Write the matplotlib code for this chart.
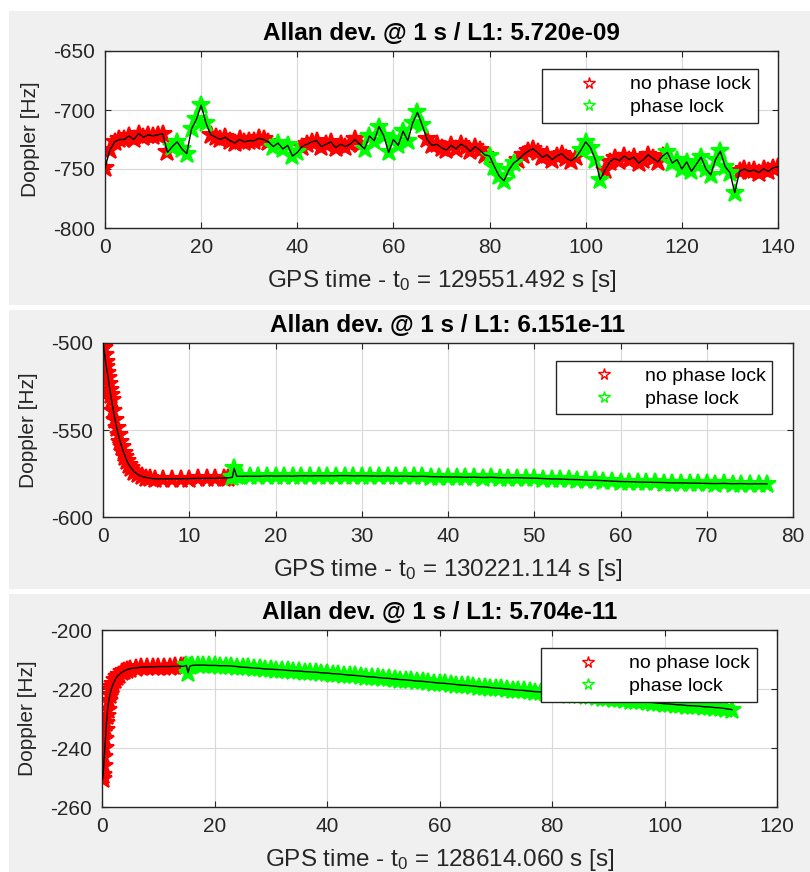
import matplotlib
matplotlib.use('Agg')
import matplotlib.pyplot as plt
from matplotlib.lines import Line2D
from matplotlib.patches import Rectangle
import numpy as np

plt.rcParams['font.family'] = ['Liberation Sans', 'DejaVu Sans']
plt.rcParams['mathtext.default'] = 'regular'
plt.rcParams['axes.unicode_minus'] = False

# --- panel 1: doppler, 1 s steps ---
t1 = list(range(141))
d1 = [-749, -734, -727, -725, -725, -722, -725, -720, -723, -721,
      -722, -721, -720, -736, -731, -727, -733, -737, -716, -708,
      -696, -711, -721, -723, -725, -723, -726, -728, -725, -727,
      -726, -726, -724, -725, -727, -731, -728, -733, -730, -739,
      -736, -731, -729, -727, -726, -731, -729, -727, -732, -729,
      -731, -729, -725, -729, -733, -722, -726, -714, -722, -736,
      -725, -730, -718, -726, -711, -702, -713, -725, -730, -729,
      -732, -734, -730, -733, -729, -731, -735, -731, -734, -738,
      -739, -748, -756, -760, -751, -745, -742, -738, -735, -733,
      -736, -740, -738, -742, -739, -737, -741, -743, -740, -734,
      -727, -732, -742, -759, -751, -744, -741, -743, -739, -742,
      -740, -745, -742, -738, -741, -744, -739, -736, -745, -742,
      -750, -744, -752, -746, -740, -750, -755, -742, -735, -748,
      -753, -770, -752, -750, -752, -751, -753, -750, -752, -749,
      -748]
lock1 = [(14, 21), (35, 40), (54, 66), (80, 85), (99, 103), (117, 131)]

# --- panel 2 ---
t2 = [0, 0.1, 0.2, 0.3, 0.4, 0.5, 0.6, 0.7, 0.8, 0.9, 1.0,
      1.2, 1.4, 1.6, 1.8, 2.0, 2.2, 2.4, 2.6, 2.8, 3.0,
      3.3, 3.6, 4.0, 4.5, 5.0, 5.5,
      6, 7, 8, 9, 10, 11, 12, 13, 14, 14.5,
      15, 15.2, 15.5] + list(range(16, 78))
d2 = [-499, -503, -507, -511, -514, -517, -520, -523.5, -527, -530, -533,
      -539, -544, -549, -553, -557, -560, -563, -565.5, -568, -570,
      -572, -574, -575.5, -576.7, -577.3, -577.8,
      -578.0, -578.1, -578.0, -578.0, -577.9, -577.8, -577.8, -577.7, -577.6, -577.5,
      -577.2, -572.0, -576.6,
      -576.6, -576.5, -576.6, -576.4, -576.5, -576.4, -576.5, -576.3, -576.4, -576.3,
      -576.4, -576.3, -576.2, -576.4, -576.3,
      -576.4, -576.5, -576.4, -576.6, -576.5, -576.7, -576.6, -576.8, -576.9, -577.0,
      -577.0, -577.2, -577.1, -577.3, -577.2, -577.4, -577.5, -577.4, -577.6, -577.7,
      -577.9, -578.1, -578.2, -578.4, -578.5, -578.8, -578.9, -579.1, -579.4, -579.6,
      -579.7, -579.9, -580.0, -580.1, -580.2, -580.4, -580.4, -580.5, -580.6, -580.7,
      -580.8, -580.7, -580.9, -580.8, -581.0, -580.9, -581.0]
lock2 = [(14.6, 80)]

# --- panel 3 ---
t3 = [0.1, 0.2, 0.3, 0.4, 0.5, 0.6, 0.7, 0.8, 0.9, 1.0,
      1.2, 1.4, 1.6, 1.8, 2.0,
      2.3, 2.6, 3.0, 3.5, 4.0, 4.5, 5.0,
      6, 7, 8, 9, 10, 11, 12, 13, 14, 14.5,
      15, 15.3, 15.6] + list(range(16, 113))
d3 = [-250.5, -249, -246, -243, -240, -237, -234, -231.5, -229, -227,
      -224, -222, -220.5, -219.2, -218.2,
      -217, -216, -215.2, -214.4, -213.8, -213.4, -213.1,
      -212.8, -212.6, -212.5, -212.5, -212.4, -212.4, -212.4, -212.3, -212.3, -212.3,
      -212.0, -214.5, -212.3,
      -212.0, -211.9, -211.9, -212.0, -212.0, -212.1, -212.1, -212.2,
      -212.4, -212.6, -212.7, -212.9, -213.0, -213.2, -213.3,
      -213.4, -213.5, -213.7, -213.8, -213.9, -214.1, -214.2, -214.3, -214.5, -214.6,
      -214.8, -214.9, -215.1, -215.3, -215.4, -215.6, -215.8, -215.9, -216.1, -216.3,
      -216.4, -216.6, -216.8, -216.9, -217.1, -217.3, -217.4, -217.6, -217.8, -218.0,
      -218.1, -218.3, -218.5, -218.7, -218.8, -219.0, -219.2, -219.3, -219.5, -219.7,
      -219.8, -220.0, -220.2, -220.4, -220.5, -220.7, -220.9, -221.0, -221.2, -221.4,
      -221.5, -221.7, -221.9, -222.0, -222.2, -222.4, -222.5, -222.7, -222.9, -223.1,
      -223.3, -223.5, -223.7, -223.9, -224.0, -224.2, -224.4, -224.6, -224.8, -225.0,
      -225.1, -225.3, -225.4, -225.6, -225.7, -225.8, -226.0, -226.1, -226.3, -226.4,
      -226.7, -227.0]
lock3 = [(14.8, 120)]

titles = ['Allan dev. @ 1 s / L1: 5.720e-09',
          'Allan dev. @ 1 s / L1: 6.151e-11',
          'Allan dev. @ 1 s / L1: 5.704e-11']
t0s = ['129551.492', '130221.114', '128614.060']

W, H = 810, 872
fig = plt.figure(figsize=(W / 100, H / 100), dpi=100)
fig.patch.set_facecolor('white')

# gray figure backgrounds (pixel top, bottom)
bands = [(11, 305), (310, 589), (594, 872)]
for top, bot in bands:
    fig.add_artist(Rectangle((9 / W, 1 - bot / H), (W - 9) / W, (bot - top) / H,
                             transform=fig.transFigure, facecolor='#f0f0f0',
                             edgecolor='none', zorder=-10))

# axes boxes in pixels: left, top, right, bottom
boxes = [(105, 51, 778, 228), (103, 343, 793, 517), (102, 630, 777, 807)]
ylab_x = [31, 29, 28]


def draw(box, t, d, segs, xlim, xticks, ylim, yticks, title, t0, ylx):
    l, tp, r, b = box
    ax = fig.add_axes([l / W, 1 - b / H, (r - l) / W, (b - tp) / H])
    t = np.array(t, dtype=float)
    d = np.array(d, dtype=float)
    lock = np.zeros(len(t), dtype=bool)
    for a, e in segs:
        lock |= (t >= a) & (t <= e)
    # dense star markers merge into a solid band
    ax.plot(t[~lock], d[~lock], ls='none', marker='*', ms=13.5, mfc='#ff0000',
            mec='#ff0000', mew=1.5, zorder=2)
    ax.plot(t[lock], d[lock], ls='none', marker='*', ms=13.5, mfc='#00ff00',
            mec='#00ff00', mew=1.5, zorder=2)
    ax.plot(t, d, color='black', lw=1.0, zorder=3)

    ax.set_xlim(xlim)
    ax.set_ylim(ylim)
    ax.set_xticks(xticks)
    ax.set_yticks(yticks)
    ax.grid(True, color='#d9d9d9', lw=0.8)
    ax.set_axisbelow(True)
    for s in ax.spines.values():
        s.set_color('#262626')
        s.set_linewidth(1.0)
    ax.tick_params(direction='in', length=4, width=0.8, top=True, right=True,
                   labelsize=15, colors='#262626', pad=7)

    h = [Line2D([], [], ls='none', marker='*', ms=8.5, mfc='none', mec='#ff0000', mew=1.0),
         Line2D([], [], ls='none', marker='*', ms=8.5, mfc='none', mec='#00ff00', mew=1.0)]
    leg = ax.legend(h, ['no phase lock', 'phase lock'], loc='upper right',
                    bbox_to_anchor=(0.970, 0.898), borderaxespad=0, fontsize=14,
                    fancybox=False, framealpha=1, edgecolor='#262626',
                    borderpad=0.35, handlelength=4.2, handletextpad=0.0,
                    labelspacing=0.25, numpoints=1)
    leg.get_frame().set_linewidth(1.0)
    leg.set_zorder(5)

    cx = (l + r) / 2
    fig.text(cx / W, 1 - (tp - 11) / H, title, ha='center', va='baseline',
             fontsize=17.5, fontweight='bold', color='black')
    fig.text(cx / W, 1 - (b + 59) / H,
             'GPS time - t$_0$ = ' + t0 + ' s [s]', ha='center', va='baseline',
             fontsize=17.5, color='#262626')
    fig.text(ylx / W, 1 - ((tp + b) / 2) / H, 'Doppler [Hz]', rotation=90,
             ha='center', va='center', fontsize=15, color='#262626')
    return ax


draw(boxes[0], t1, d1, lock1, (0, 140), range(0, 141, 20), (-800, -650),
     range(-800, -649, 50), titles[0], t0s[0], ylab_x[0])
draw(boxes[1], t2, d2, lock2, (0, 80), range(0, 81, 10), (-600, -500),
     range(-600, -499, 50), titles[1], t0s[1], ylab_x[1])
draw(boxes[2], t3, d3, lock3, (0, 120), range(0, 121, 20), (-260, -200),
     range(-260, -199, 20), titles[2], t0s[2], ylab_x[2])

fig.savefig('out.png', dpi=100)
